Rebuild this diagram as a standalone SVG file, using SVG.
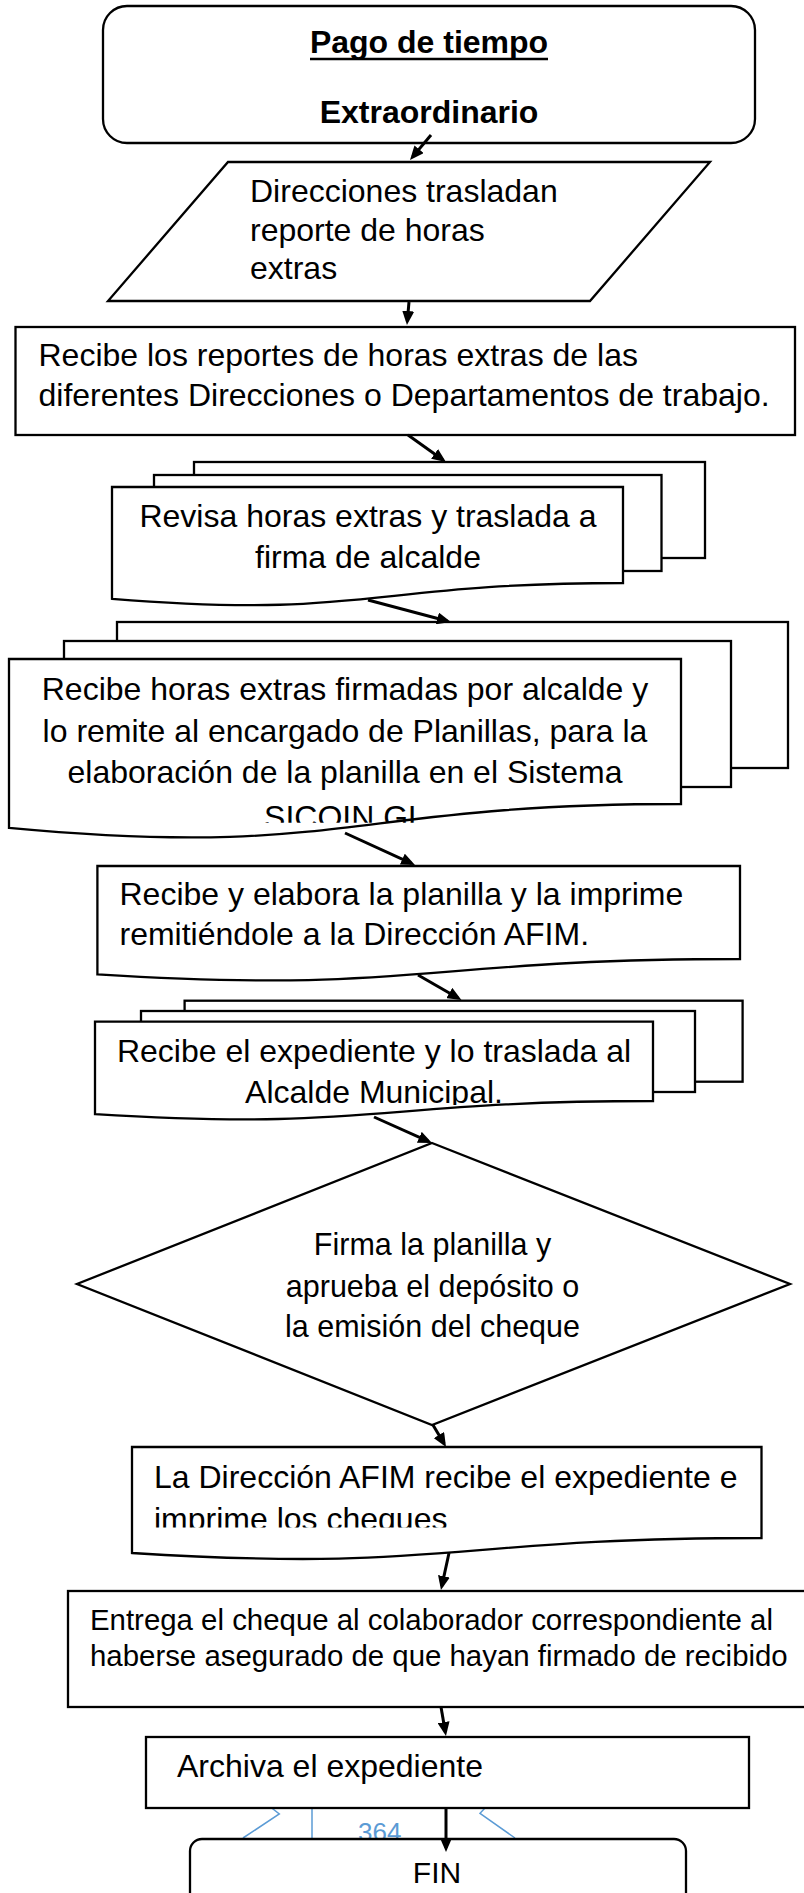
<svg xmlns="http://www.w3.org/2000/svg" width="804" height="1893" viewBox="0 0 804 1893">
<style>
.shape{fill:#fff;stroke:#000;stroke-width:2.3}
.t{font-family:"Liberation Sans",Arial,sans-serif;font-size:32px;fill:#000}
.b{font-weight:bold}
.c{text-anchor:middle}
.conn line{stroke:#000;stroke-width:3;marker-end:url(#arr)}
.deco{fill:none;stroke:#5b9bd5;stroke-width:1.5}
</style>
<defs>
<marker id="arr" markerUnits="userSpaceOnUse" markerWidth="14" markerHeight="12" refX="10" refY="6" orient="auto"><path d="M0,0 L14,6 L0,12 z" fill="#000"/></marker>
<clipPath id="clipSicoin"><rect x="0" y="790" width="804" height="32.7"/></clipPath>
<clipPath id="clipAlcalde"><rect x="0" y="1070" width="804" height="35"/></clipPath>
<clipPath id="clipCheques"><rect x="0" y="1495" width="804" height="32.5"/></clipPath>
</defs>
<rect width="804" height="1893" fill="#fff"/>

<g id="deco">
<polyline class="deco" points="271.7,1808 279.3,1814 243,1838"/>
<line class="deco" x1="312" y1="1807" x2="312" y2="1839"/>
<polyline class="deco" points="485,1808 480,1813.3 515,1838"/>
<text x="358" y="1841" style="font-family:'Liberation Sans',Arial,sans-serif;font-size:26px;fill:#5b9bd5">364</text>
</g>

<g id="start">
<rect class="shape" x="103" y="6" width="652" height="137" rx="24"/>
<text class="t b c" x="429" y="53">Pago de tiempo</text>
<line x1="310" y1="59" x2="548" y2="59" stroke="#000" stroke-width="2.5"/>
<text class="t b c" x="429" y="123">Extraordinario</text>
</g>

<g id="direcciones">
<polygon class="shape" points="228,162 710,162 590,301 108,301"/>
<text class="t" x="250" y="202">Direcciones trasladan</text>
<text class="t" x="250" y="241">reporte de horas</text>
<text class="t" x="250" y="279">extras</text>
</g>

<g id="recibe-reportes">
<rect class="shape" x="15.5" y="327" width="779.5" height="108"/>
<text class="t" x="38.5" y="366">Recibe los reportes de horas extras de las</text>
<text class="t" x="38.5" y="406">diferentes Direcciones o Departamentos de trabajo.</text>
</g>

<g id="revisa">
<rect class="shape" x="194" y="462" width="511" height="96"/>
<rect class="shape" x="154" y="475" width="507.5" height="96"/>
<path class="shape" d="M112,487 H623 V583 C367.5,583 367.5,619.5 112,598.8 Z"/>
<text class="t c" x="368" y="527">Revisa horas extras y traslada a</text>
<text class="t c" x="368" y="568">firma de alcalde</text>
</g>

<g id="recibe-firmadas">
<rect class="shape" x="117" y="622" width="671" height="146"/>
<rect class="shape" x="64" y="641" width="667" height="146"/>
<path class="shape" d="M9,659 H681 V804 C345,804 345,859.1 9,827.9 Z"/>
<text class="t c" x="345" y="700">Recibe horas extras firmadas por alcalde y</text>
<text class="t c" x="345" y="742">lo remite al encargado de Planillas, para la</text>
<text class="t c" x="345" y="783">elaboración de la planilla en el Sistema</text>
<text class="t c" x="345" y="828" clip-path="url(#clipSicoin)">SICOIN GL</text>
</g>

<g id="elabora">
<path class="shape" d="M97.4,866 H740 V959 C418.7,959 418.7,994.4 97.4,974.3 Z"/>
<text class="t" x="119.5" y="905">Recibe y elabora la planilla y la imprime</text>
<text class="t" x="119.5" y="945">remitiéndole a la Dirección AFIM.</text>
</g>

<g id="traslada-alcalde">
<rect class="shape" x="184.6" y="1000.7" width="558" height="81"/>
<rect class="shape" x="141" y="1011" width="554" height="81"/>
<path class="shape" d="M95,1021.7 H653 V1101 C374,1101 374,1131.2 95,1114.1 Z"/>
<text class="t c" x="374" y="1062">Recibe el expediente y lo traslada al</text>
<text class="t c" x="374" y="1103" clip-path="url(#clipAlcalde)">Alcalde Municipal.</text>
</g>

<g id="firma">
<path class="shape" d="M432,1143 L790,1284 L432,1425 L77,1284 Z"/>
<text class="t c" x="432.5" y="1255" style="font-size:30.5px">Firma la planilla y</text>
<text class="t c" x="432.5" y="1297" style="font-size:30.5px">aprueba el depósito o</text>
<text class="t c" x="432.5" y="1337" style="font-size:30.5px">la emisión del cheque</text>
</g>

<g id="imprime">
<path class="shape" d="M132,1447 H761.5 V1538 C446.8,1538 446.8,1572.6 132,1553 Z"/>
<text class="t" x="154" y="1488">La Dirección AFIM recibe el expediente e</text>
<text class="t" x="154" y="1530" clip-path="url(#clipCheques)">imprime los cheques</text>
</g>

<g id="entrega">
<rect class="shape" x="68" y="1591" width="760" height="116"/>
<text class="t" x="90" y="1630" style="font-size:29.4px">Entrega el cheque al colaborador correspondiente al</text>
<text class="t" x="90" y="1666" style="font-size:29.4px">haberse asegurado de que hayan firmado de recibido</text>
</g>

<g id="archiva">
<rect class="shape" x="146" y="1737" width="603" height="71"/>
<text class="t" x="177" y="1777">Archiva el expediente</text>
</g>

<g id="fin">
<rect class="shape" x="190" y="1839" width="496" height="100" rx="12"/>
<text class="t c" x="437" y="1883" style="font-size:30px">FIN</text>
</g>

<g id="connectors" class="conn">
<line x1="431" y1="135" x2="412.6" y2="156.9"/>
<line x1="409" y1="302" x2="407.3" y2="321"/>
<line x1="408" y1="435" x2="442.7" y2="459.7"/>
<line x1="368" y1="600" x2="447.1" y2="621"/>
<line x1="345" y1="833" x2="411.4" y2="863.3"/>
<line x1="418" y1="975" x2="458" y2="998"/>
<line x1="374" y1="1117" x2="428.4" y2="1141.4"/>
<line x1="433" y1="1425" x2="444" y2="1443.6"/>
<line x1="449" y1="1553" x2="441.8" y2="1586.1"/>
<line x1="441" y1="1707" x2="445.3" y2="1732"/>
<line x1="446" y1="1807" x2="446" y2="1848"/>
</g>
</svg>
